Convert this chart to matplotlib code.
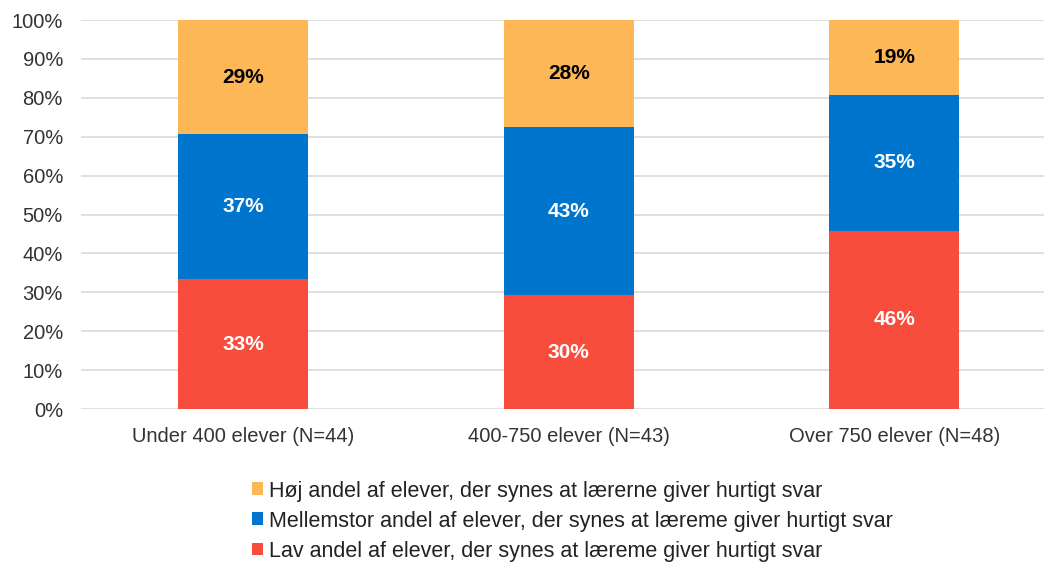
import matplotlib.pyplot as plt
import numpy as np

plt.rcParams['font.family'] = ['Liberation Sans', 'DejaVu Sans']

categories = ["Under 400 elever (N=44)", "400-750 elever (N=43)", "Over 750 elever (N=48)"]
lav = [33.4, 29.3, 45.8]
mellem = [37.3, 43.2, 34.9]
hoej = [29.3, 27.5, 19.3]
lav_labels = ["33%", "30%", "46%"]
mellem_labels = ["37%", "43%", "35%"]
hoej_labels = ["29%", "28%", "19%"]
series_names = [
    "Høj andel af elever, der synes at lærerne giver hurtigt svar",
    "Mellemstor andel af elever, der synes at læreme giver hurtigt svar",
    "Lav andel af elever, der synes at læreme giver hurtigt svar",
]

c_red = "#F84C3C"
c_blue = "#0075CE"
c_yellow = "#FDB756"

fig = plt.figure(figsize=(10.44, 5.64), dpi=100)
ax = fig.add_axes([0.0776, 0.2748, 0.9224, 0.6897])

x = np.arange(len(categories))
w = 0.40
b1 = ax.bar(x, lav, w, color=c_red, zorder=3)
b2 = ax.bar(x, mellem, w, bottom=lav, color=c_blue, zorder=3)
bottom3 = [a + b for a, b in zip(lav, mellem)]
b3 = ax.bar(x, hoej, w, bottom=bottom3, color=c_yellow, zorder=3)

ax.bar_label(b1, labels=lav_labels, label_type='center', color='white', fontweight='bold', fontsize=15)
ax.bar_label(b2, labels=mellem_labels, label_type='center', color='white', fontweight='bold', fontsize=15)
ax.bar_label(b3, labels=hoej_labels, label_type='center', color='black', fontweight='bold', fontsize=15)

ax.set_ylim(0, 100)
ax.set_xlim(-0.498, 2.46)
ax.set_yticks(range(0, 101, 10))
ax.set_yticklabels([f"{v}%" for v in range(0, 101, 10)])
ax.set_xticks(x)
ax.set_xticklabels(categories)
ax.tick_params(axis='both', length=0, labelsize=14.5, colors='#333333')
ax.tick_params(axis='y', pad=13)
ax.tick_params(axis='x', pad=13)
ax.grid(axis='y', color='#D9D9D9', linewidth=1.2, zorder=0)
for s in ax.spines.values():
    s.set_visible(False)

fig.legend([b3, b2, b1], series_names, loc='upper left', bbox_to_anchor=(0.241, 0.148),
           frameon=False, fontsize=15.5, handlelength=0.55, handleheight=0.55,
           handletextpad=0.25, labelspacing=0.42, borderaxespad=0, borderpad=0,
           labelcolor='#222222')

fig.savefig("out.png", dpi=100)
